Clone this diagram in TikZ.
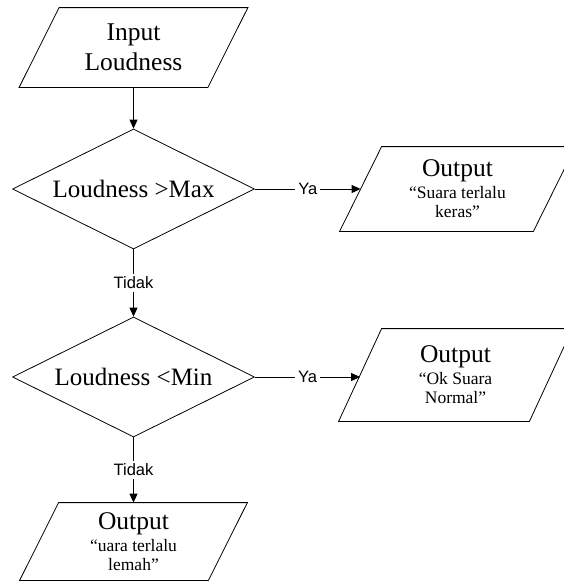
\documentclass[tikz,border=0pt]{standalone}
\usepackage{fontspec}
\setmainfont{Liberation Serif}
\newfontfamily\labelfont{Liberation Sans}
\usetikzlibrary{shapes.geometric,arrows.meta}

% slanted input/output frame around a rectangular node
\newcommand\ioframe[2]{%
  \draw (#1.south west) -- ([xshift=#2]#1.north west) -- (#1.north east)
        -- ([xshift=-#2]#1.south east) -- cycle;}

\begin{document}
\begin{tikzpicture}[x=1pt, y=-1pt, line width=0.8pt,
  decision/.style={diamond, draw, aspect=2, minimum width=242pt, minimum height=120pt,
                   inner sep=0pt, font=\fontsize{25}{30}\selectfont},
  iobox/.style={rectangle, inner sep=0pt, align=center,
                font=\fontsize{17.5}{19}\selectfont},
  flow/.style={-{Triangle[length=9pt,width=8pt]}},
  branch/.style={font=\labelfont\fontsize{16.5}{18}\selectfont, fill=white, inner sep=3pt}]
\useasboundingbox (0,0) rectangle (564,587);
\clip (0,0) rectangle (564,587);

% input
\node[iobox, font=\fontsize{25.5}{30}\selectfont, minimum width=228pt, minimum height=79pt]
  (in) at (133.5,47.5) {Input\\Loudness};
\ioframe{in}{40pt}

% decisions
\node[decision] (d1) at (133.5,189) {Loudness >Max};
\node[decision] (d2) at (133.5,377) {Loudness <Min};

% outputs
\node[iobox, minimum width=235pt, minimum height=84pt] (out1) at (457.5,189)
  {{\fontsize{25.5}{25}\selectfont Output}\\[3pt]“Suara terlalu\\keras”};
\ioframe{out1}{42pt}

\node[iobox, minimum width=233pt, minimum height=92pt] (out2) at (455.5,375)
  {{\fontsize{25.5}{25}\selectfont Output}\\[3pt]“Ok Suara\\Normal”};
\ioframe{out2}{43pt}

\node[iobox, minimum width=227pt, minimum height=77pt] (out3) at (133.5,541.5)
  {{\fontsize{25.5}{25}\selectfont Output}\\[3pt]“uara terlalu\\lemah”};
\ioframe{out3}{39pt}

% connectors
\coordinate (o1in) at ([xshift=21pt]out1.west);
\coordinate (o2in) at ([xshift=21.5pt]out2.west);
\draw[flow] (in) -- (d1);
\draw[flow] (d1) -- node[branch] {Tidak} (d2);
\draw[flow] (d2) -- node[branch] {Tidak} (out3);
\draw[flow] (d1.east) -- node[branch] {Ya} (d1.east -| o1in);
\draw[flow] (d2.east) -- node[branch] {Ya} (d2.east -| o2in);
\end{tikzpicture}
\end{document}
